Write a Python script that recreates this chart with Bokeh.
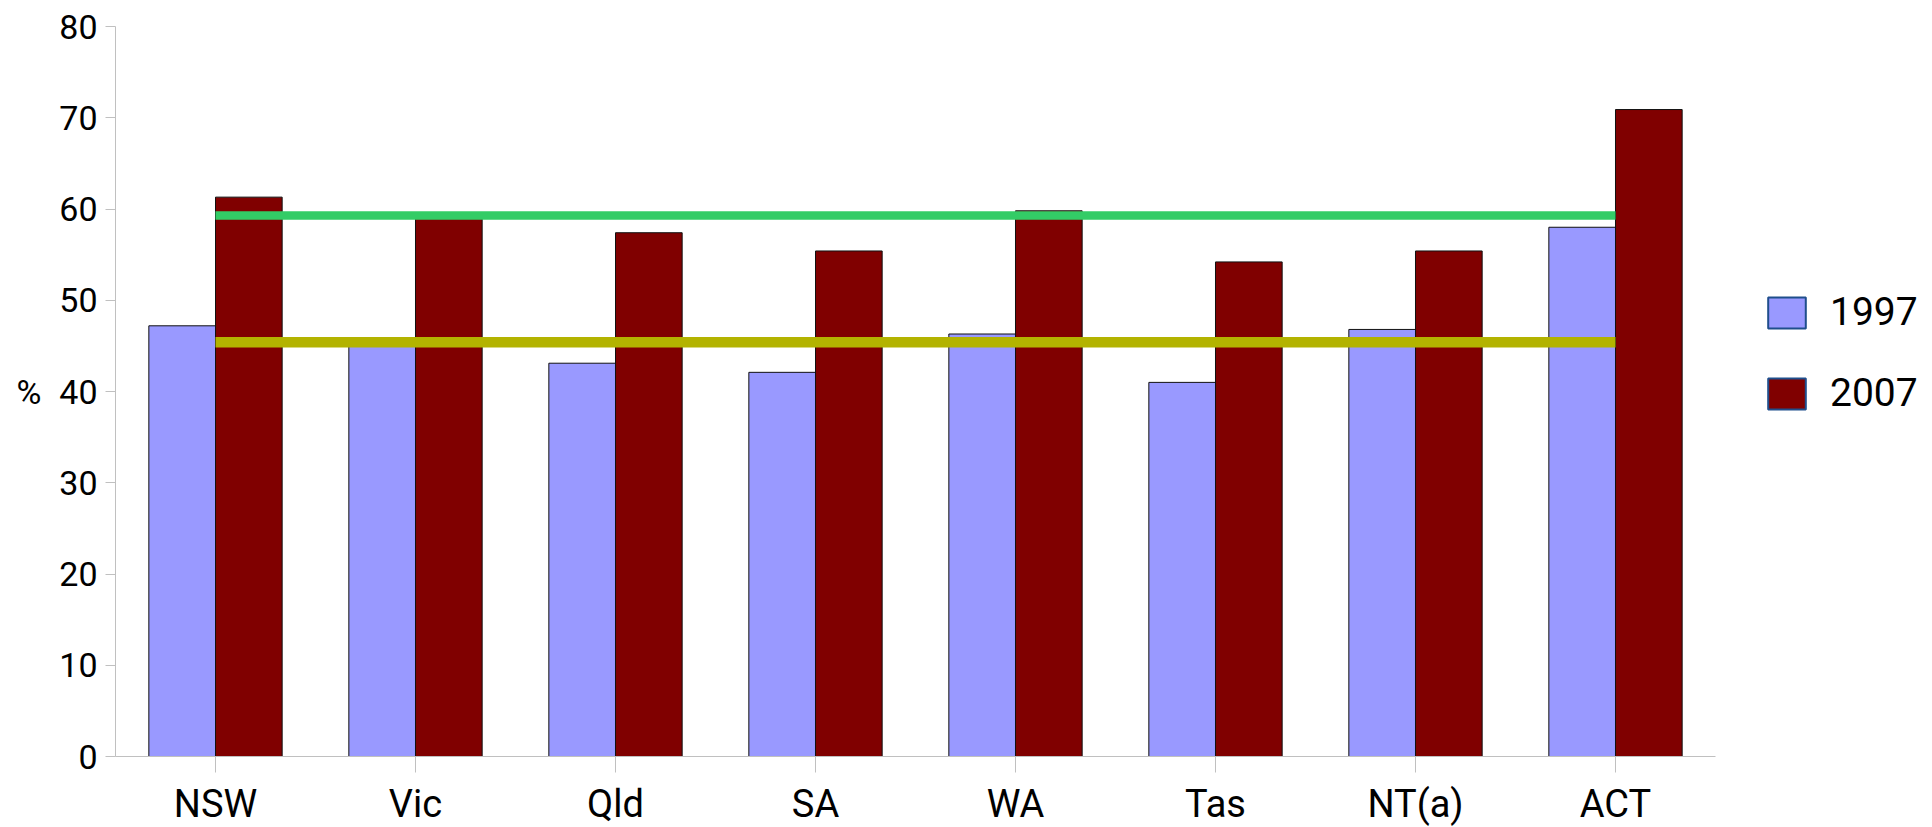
from bokeh.plotting import figure
from bokeh.models import FactorRange, Range1d, FixedTicker, Legend, LegendItem, ColumnDataSource
from bokeh.transform import dodge
from bokeh.embed import file_html
from bokeh.resources import INLINE

# ---- data ----
states = ["NSW", "Vic", "Qld", "SA", "WA", "Tas", "NT(a)", "ACT"]
pct_1997 = [47.2, 45.6, 43.1, 42.1, 46.3, 41.0, 46.8, 58.0]
pct_2007 = [61.3, 59.2, 57.4, 55.4, 59.8, 54.2, 55.4, 70.9]
aus_1997 = 45.4
aus_2007 = 59.3
series_labels = ["1997", "2007"]
y_ticks = [0, 10, 20, 30, 40, 50, 60, 70, 80]

TICKF = "Roboto"
LEGF = "Roboto"

src = ColumnDataSource(dict(state=states, y1997=pct_1997, y2007=pct_2007))

p = figure(frame_width=1600, frame_height=730, output_backend="svg", toolbar_location=None,
           x_range=FactorRange(*states, range_padding=0), y_range=Range1d(0, 80),
           min_border_left=115, min_border_top=26, min_border_right=210, min_border_bottom=60)
p.outline_line_color = None
p.xgrid.grid_line_color = None
p.ygrid.grid_line_color = None

r97 = p.vbar(x=dodge("state", -1/6, range=p.x_range), top="y1997", width=1/3, source=src,
             fill_color="#9999ff", line_color="#111111", line_width=1)
r07 = p.vbar(x=dodge("state", 1/6, range=p.x_range), top="y2007", width=1/3, source=src,
             fill_color="#800000", line_color="#111111", line_width=1)

p.line(x=[states[0], states[-1]], y=[aus_1997, aus_1997], line_color="#b3b300", line_width=10.5, line_cap="butt")
p.line(x=[states[0], states[-1]], y=[aus_2007, aus_2007], line_color="#33cc66", line_width=8.5, line_cap="butt")

# hidden legend proxies (same data) to get the blue box outline in the legend
l97 = p.vbar(x=dodge("state", -1/6, range=p.x_range), top="y1997", width=1/3, source=src,
             fill_color="#9999ff", line_color="#1f4e8c", line_width=2, visible=False)
l07 = p.vbar(x=dodge("state", 1/6, range=p.x_range), top="y2007", width=1/3, source=src,
             fill_color="#800000", line_color="#1f4e8c", line_width=2, visible=False)

legend = Legend(items=[LegendItem(label=series_labels[0], renderers=[l97], index=0),
                       LegendItem(label=series_labels[1], renderers=[l07], index=0)],
                location=(48, 340), orientation="vertical",
                glyph_width=47, glyph_height=39, label_standoff=20, spacing=35,
                padding=0, margin=0, border_line_color=None, background_fill_alpha=0,
                label_text_font=LEGF, label_text_font_size="39px", label_text_color="#000000")
p.add_layout(legend, "right")

# axes
ax = p.xaxis[0]
ax.axis_line_color = "#c0c0c0"
ax.major_tick_line_color = "#c0c0c0"
ax.major_tick_out = 16
ax.major_tick_in = 0
ax.minor_tick_line_color = None
ax.major_label_text_font = TICKF
ax.major_label_text_font_size = "38px"
ax.major_label_text_color = "#000000"
ax.major_label_standoff = 9

ay = p.yaxis[0]
ay.ticker = FixedTicker(ticks=y_ticks)
ay.axis_line_color = "#c0c0c0"
ay.major_tick_line_color = "#c0c0c0"
ay.major_tick_out = 10
ay.major_tick_in = 0
ay.minor_tick_line_color = None
ay.major_label_text_font = TICKF
ay.major_label_text_font_size = "34px"
ay.major_label_text_color = "#000000"
ay.major_label_standoff = 8
ay.axis_label = "%"
ay.axis_label_orientation = "horizontal"
ay.axis_label_text_font = TICKF
ay.axis_label_text_font_size = "34px"
ay.axis_label_text_font_style = "normal"
ay.axis_label_text_color = "#000000"
ay.axis_label_standoff = 15

open("out.html", "w").write(file_html(p, INLINE))
